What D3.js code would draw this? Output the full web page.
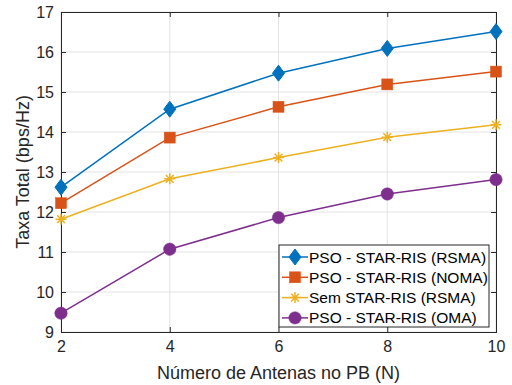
<!DOCTYPE html>
<html>
<head>
<meta charset="utf-8">
<script src="https://cdn.jsdelivr.net/npm/d3@7"></script>
<style>
  html, body { margin: 0; padding: 0; background: #fff; }
  svg { display: block; font-family: "Liberation Sans", Arial, Helvetica, sans-serif; }
</style>
</head>
<body>
<svg id="chart" width="512" height="385"></svg>
<script>
// Antenna counts at the base station
const antennas = [2, 4, 6, 8, 10];

// Sum rate (bps/Hz) per scheme
const rsmaStar = [12.62, 14.57, 15.47, 16.09, 16.51];
const nomaStar = [12.22, 13.86, 14.63, 15.19, 15.51];
const rsmaNoStar = [11.82, 12.83, 13.36, 13.87, 14.18];
const omaStar = [9.47, 11.07, 11.86, 12.45, 12.81];

const seriesNames = [
  "PSO - STAR-RIS (RSMA)",
  "PSO - STAR-RIS (NOMA)",
  "Sem STAR-RIS (RSMA)",
  "PSO - STAR-RIS (OMA)"
];

const xTicks = [2, 4, 6, 8, 10];
const yTicks = [9, 10, 11, 12, 13, 14, 15, 16, 17];

const colors = ["#0072BD", "#D95319", "#EDB120", "#7E2F8E"];
const markers = ["diamond", "square", "asterisk", "circle"];
const values = [rsmaStar, nomaStar, rsmaNoStar, omaStar];

const series = seriesNames.map((name, i) => ({
  name, color: colors[i], marker: markers[i],
  points: antennas.map((a, j) => ({ x: a, y: values[i][j] }))
}));

const svg = d3.select("#chart");
const mLeft = 61, mRight = 496, mTop = 12, mBottom = 332;

const x = d3.scaleLinear().domain([2, 10]).range([mLeft, mRight]);
const y = d3.scaleLinear().domain([9, 17]).range([mBottom, mTop]);

const axisColor = "#262626";
const gridColor = "#e3e3e3";

// grid
const grid = svg.append("g");
grid.selectAll("line.gx").data(xTicks).join("line").attr("class", "gx")
  .attr("x1", d => x(d)).attr("x2", d => x(d))
  .attr("y1", mTop).attr("y2", mBottom)
  .attr("stroke", gridColor).attr("stroke-width", 1);
grid.selectAll("line.gy").data(yTicks).join("line").attr("class", "gy")
  .attr("x1", mLeft).attr("x2", mRight)
  .attr("y1", d => y(d)).attr("y2", d => y(d))
  .attr("stroke", gridColor).attr("stroke-width", 1);

// axes (ticks pointing inwards, mirrored on top/right)
const tickLen = 5;
const xAxis = d3.axisBottom(x).tickValues(xTicks).tickSize(-tickLen).tickPadding(9).tickFormat(d3.format("d"));
const yAxis = d3.axisLeft(y).tickValues(yTicks).tickSize(-tickLen).tickPadding(7).tickFormat(d3.format("d"));
const xTop = d3.axisTop(x).tickValues(xTicks).tickSize(-tickLen).tickFormat("");
const yRight = d3.axisRight(y).tickValues(yTicks).tickSize(-tickLen).tickFormat("");

function styleAxis(g) {
  g.select(".domain").attr("stroke", axisColor).attr("stroke-width", 1);
  g.selectAll(".tick line").attr("stroke", axisColor);
  g.selectAll(".tick text").attr("fill", axisColor).style("font-size", "16px")
    .style("font-family", "Liberation Sans, Arial, sans-serif");
}

svg.append("g").attr("transform", `translate(0,${mBottom})`).call(xAxis).call(styleAxis);
svg.append("g").attr("transform", `translate(${mLeft},0)`).call(yAxis).call(styleAxis);
svg.append("g").attr("transform", `translate(0,${mTop})`).call(xTop).call(styleAxis);
svg.append("g").attr("transform", `translate(${mRight},0)`).call(yRight).call(styleAxis);

// marker drawing
function drawMarker(g, type, color, cx, cy, scale = 1) {
  if (type === "diamond") {
    const h = 8 * scale, w = 6 * scale;
    g.append("path").attr("d", `M${cx},${cy - h}L${cx + w},${cy}L${cx},${cy + h}L${cx - w},${cy}Z`)
      .attr("fill", color).attr("stroke", color).attr("stroke-width", 1);
  } else if (type === "square") {
    const s = 5.5 * scale;
    g.append("rect").attr("x", cx - s).attr("y", cy - s).attr("width", 2 * s).attr("height", 2 * s)
      .attr("fill", color).attr("stroke", color).attr("stroke-width", 0.5);
  } else if (type === "circle") {
    g.append("circle").attr("cx", cx).attr("cy", cy).attr("r", 6.2 * scale)
      .attr("fill", color).attr("stroke", color).attr("stroke-width", 0.5);
  } else if (type === "asterisk") {
    const r = 5.5 * scale;
    const d = r * Math.SQRT1_2;
    const p = `M${cx - r},${cy}L${cx + r},${cy}M${cx},${cy - r}L${cx},${cy + r}` +
      `M${cx - d},${cy - d}L${cx + d},${cy + d}M${cx - d},${cy + d}L${cx + d},${cy - d}`;
    g.append("path").attr("d", p).attr("stroke", color).attr("stroke-width", 1.5).attr("fill", "none");
  }
}

const line = d3.line().x(d => x(d.x)).y(d => y(d.y));
const plot = svg.append("g");
series.forEach(s => {
  plot.append("path").datum(s.points).attr("d", line)
    .attr("fill", "none").attr("stroke", s.color).attr("stroke-width", 1.5);
});
series.forEach(s => {
  const g = plot.append("g");
  s.points.forEach(p => drawMarker(g, s.marker, s.color, x(p.x), y(p.y)));
});

// axis labels
svg.append("text").attr("x", (mLeft + mRight) / 2).attr("y", 379)
  .attr("text-anchor", "middle").attr("fill", axisColor).style("font-size", "18px")
  .text("Número de Antenas no PB (N)");
svg.append("text").attr("transform", `translate(29,${(mTop + mBottom) / 2}) rotate(-90)`)
  .attr("text-anchor", "middle").attr("fill", axisColor).style("font-size", "18px")
  .text("Taxa Total (bps/Hz)");

// legend
const lg = svg.append("g");
const lx = 279, ly = 245, lw = 210, lh = 82;
lg.append("rect").attr("x", lx).attr("y", ly).attr("width", lw).attr("height", lh)
  .attr("fill", "#fff").attr("stroke", axisColor).attr("stroke-width", 1);
series.forEach((s, i) => {
  const cy = 257 + i * 20.3;
  lg.append("line").attr("x1", 282).attr("x2", 308).attr("y1", cy).attr("y2", cy)
    .attr("stroke", s.color).attr("stroke-width", 1.5);
  drawMarker(lg, s.marker, s.color, 295, cy);
  lg.append("text").attr("x", 309).attr("y", cy + 5.5).attr("fill", "#000")
    .style("font-size", "15.5px").text(s.name);
});
</script>
</body>
</html>
